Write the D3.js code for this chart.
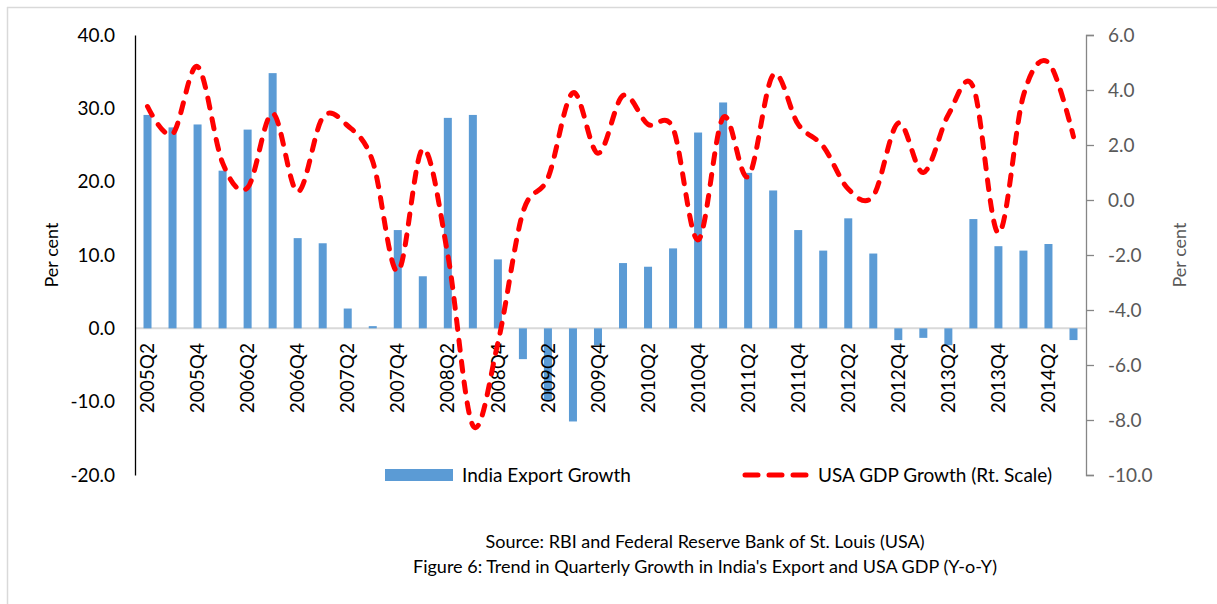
<!DOCTYPE html>
<html>
<head>
<meta charset="utf-8">
<script src="https://cdn.jsdelivr.net/npm/d3@7"></script>
<style>
  html, body { margin: 0; padding: 0; background: #fff; }
  svg { display: block; font-family: Lato, "Open Sans", sans-serif; }
</style>
</head>
<body>
<svg id="chart" width="1217" height="604"></svg>
<script>
// Quarterly series, 2005Q2 to 2014Q3
const quarters = [
  "2005Q2","2005Q3","2005Q4","2006Q1","2006Q2","2006Q3","2006Q4","2007Q1",
  "2007Q2","2007Q3","2007Q4","2008Q1","2008Q2","2008Q3","2008Q4","2009Q1",
  "2009Q2","2009Q3","2009Q4","2010Q1","2010Q2","2010Q3","2010Q4","2011Q1",
  "2011Q2","2011Q3","2011Q4","2012Q1","2012Q2","2012Q3","2012Q4","2013Q1",
  "2013Q2","2013Q3","2013Q4","2014Q1","2014Q2","2014Q3"
];

// India export growth, per cent (left scale)
const exportGrowth = [
  29.1, 27.4, 27.8, 21.5, 27.1, 34.8, 12.3, 11.6,
  2.7, 0.3, 13.4, 7.1, 28.7, 29.1, 9.4, -4.2,
  -9.8, -12.7, -2.3, 8.9, 8.4, 10.9, 26.7, 30.8,
  21.2, 18.8, 13.4, 10.6, 15.0, 10.2, -1.6, -1.3,
  -2.3, 14.9, 11.2, 10.6, 11.5, -1.6
];

// USA GDP growth, per cent (right scale)
const usGdpGrowth = [
  3.4, 2.4, 4.85, 1.35, 0.45, 3.15, 0.3, 3.0,
  2.7, 1.4, -2.6, 1.85, -2.0, -8.2, -5.2, -0.45,
  0.8, 3.9, 1.7, 3.8, 2.75, 2.6, -1.45, 3.0,
  0.85, 4.55, 2.75, 1.95, 0.4, 0.15, 2.8, 1.0,
  3.1, 4.1, -1.2, 3.8, 5.0, 2.3
];

const leftTicks = [-20, -10, 0, 10, 20, 30, 40];
const rightTicks = [-10, -8, -6, -4, -2, 0, 2, 4, 6];
const labelledQuarters = quarters.filter(q => q.endsWith("Q2") || q.endsWith("Q4"));

const seriesNames = ["India Export Growth", "USA GDP Growth (Rt. Scale)"];
const sourceText = "Source: RBI and Federal Reserve Bank of St. Louis (USA)";
const captionText = "Figure 6: Trend in Quarterly Growth in India's Export and USA GDP (Y-o-Y)";

const svg = d3.select("#chart");
const plot = { left: 135, right: 1086, top: 35, bottom: 475 };
const barColor = "#5b9bd5";
const lineColor = "#ff0000";
const fmt = d => d.toFixed(1);   // plain hyphen for negatives

const x = d3.scaleBand()
  .domain(quarters)
  .range([plot.left, plot.right])
  .paddingInner(0.68)
  .paddingOuter(0.34);
const cx = q => x(q) + x.bandwidth() / 2;

const yL = d3.scaleLinear().domain([-20, 40]).range([plot.bottom, plot.top]);
const yR = d3.scaleLinear().domain([-10, 6]).range([plot.bottom, plot.top]);

// chart area frame edges
svg.append("line").attr("x1", 7.5).attr("x2", 7.5).attr("y1", 7).attr("y2", 604)
  .attr("stroke", "#d9d9d9").attr("stroke-width", 1.5);
svg.append("line").attr("x1", 7).attr("x2", 1217).attr("y1", 7.5).attr("y2", 7.5)
  .attr("stroke", "#d9d9d9").attr("stroke-width", 1.5);

// zero baseline
svg.append("line")
  .attr("x1", plot.left).attr("x2", plot.right)
  .attr("y1", yL(0)).attr("y2", yL(0))
  .attr("stroke", "#d9d9d9").attr("stroke-width", 2);

// bars
svg.append("g").selectAll("rect")
  .data(quarters)
  .join("rect")
  .attr("x", q => x(q))
  .attr("width", x.bandwidth())
  .attr("y", (q, i) => yL(Math.max(0, exportGrowth[i])))
  .attr("height", (q, i) => Math.abs(yL(exportGrowth[i]) - yL(0)))
  .attr("fill", barColor);

// left axis
const axL = svg.append("g")
  .attr("transform", `translate(${plot.left},0)`)
  .call(d3.axisLeft(yL).tickValues(leftTicks).tickFormat(fmt)
    .tickSize(0).tickPadding(20));
axL.select(".domain").attr("stroke", "#000").attr("stroke-width", 1.3);
axL.selectAll("text").attr("font-size", 19).attr("fill", "#000")
  .attr("font-family", "Lato, sans-serif");

// right axis
const axR = svg.append("g")
  .attr("transform", `translate(${plot.right},0)`)
  .call(d3.axisRight(yR).tickValues(rightTicks).tickFormat(fmt)
    .tickSize(8).tickPadding(14));
axR.select(".domain").attr("stroke", "#868686").attr("stroke-width", 1.3);
axR.selectAll(".tick line").attr("stroke", "#868686").attr("stroke-width", 1.3);
axR.selectAll("text").attr("font-size", 19).attr("fill", "#595959")
  .attr("font-family", "Lato, sans-serif");

// category labels, rotated
svg.append("g").selectAll("text")
  .data(labelledQuarters)
  .join("text")
  .attr("transform", q => `translate(${cx(q)},343) rotate(-90)`)
  .attr("text-anchor", "end")
  .attr("dy", "0.35em")
  .attr("font-size", 19)
  .attr("fill", "#000")
  .text(q => q);

// USA GDP line, smoothed and dashed
const line = d3.line()
  .x((d, i) => cx(quarters[i]))
  .y(d => yR(d))
  .curve(d3.curveCardinal.tension(0));
svg.append("path")
  .datum(usGdpGrowth)
  .attr("d", line)
  .attr("fill", "none")
  .attr("stroke", lineColor)
  .attr("stroke-width", 5)
  .attr("stroke-dasharray", "10 11")
  .attr("stroke-linecap", "round");

// axis titles
svg.append("text")
  .attr("transform", "translate(52,255) rotate(-90)")
  .attr("text-anchor", "middle").attr("dy", "0.35em")
  .attr("font-size", 18).attr("fill", "#000")
  .text("Per cent");
svg.append("text")
  .attr("transform", "translate(1180,255) rotate(-90)")
  .attr("text-anchor", "middle").attr("dy", "0.35em")
  .attr("font-size", 18).attr("fill", "#595959")
  .text("Per cent");

// legend
const legend = svg.append("g");
legend.append("rect")
  .attr("x", 385).attr("y", 469).attr("width", 68).attr("height", 12)
  .attr("fill", barColor);
legend.append("text")
  .attr("x", 462).attr("y", 475).attr("dy", "0.35em")
  .attr("font-size", 19).attr("fill", "#000")
  .text(seriesNames[0]);
legend.append("line")
  .attr("x1", 745).attr("x2", 806).attr("y1", 475).attr("y2", 475)
  .attr("stroke", lineColor).attr("stroke-width", 5)
  .attr("stroke-dasharray", "13 11").attr("stroke-linecap", "round");
legend.append("text")
  .attr("x", 818).attr("y", 475).attr("dy", "0.35em")
  .attr("font-size", 19).attr("fill", "#000")
  .text(seriesNames[1]);

// source and caption
svg.append("text")
  .attr("x", 705).attr("y", 542).attr("dy", "0.35em")
  .attr("text-anchor", "middle")
  .attr("font-size", 18).attr("fill", "#000")
  .text(sourceText);
svg.append("text")
  .attr("x", 705).attr("y", 567).attr("dy", "0.35em")
  .attr("text-anchor", "middle")
  .attr("font-size", 18).attr("fill", "#000")
  .text(captionText);
</script>
</body>
</html>
